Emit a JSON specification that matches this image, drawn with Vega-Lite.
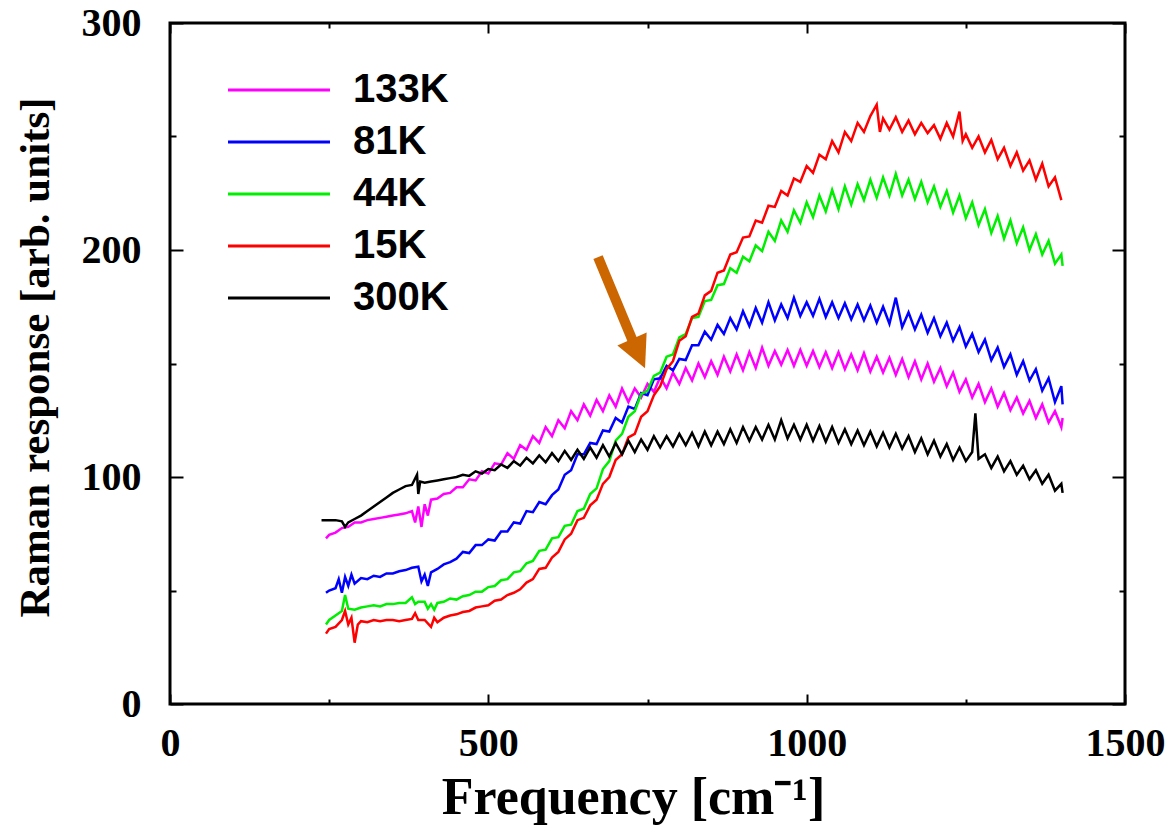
{
  "$schema": "https://vega.github.io/schema/vega-lite/v6.json",
  "width": 955,
  "height": 681,
  "autosize": "none",
  "padding": {"left": 170, "top": 23, "right": 43, "bottom": 121},
  "background": "white",
  "config": {
    "view": {"stroke": "black", "strokeWidth": 3},
    "axis": {"grid": false}
  },
  "datasets": {
    "spectra": [
      {"T":"133K","f":245,"r":73},{"T":"133K","f":250,"r":74.5},{"T":"133K","f":260,"r":75.5},{"T":"133K","f":270,"r":77.5},{"T":"133K","f":280,"r":78},{"T":"133K","f":290,"r":80},{"T":"133K","f":300,"r":80},{"T":"133K","f":310,"r":81},{"T":"133K","f":320,"r":81.5},{"T":"133K","f":330,"r":82},{"T":"133K","f":340,"r":82.5},{"T":"133K","f":350,"r":83},{"T":"133K","f":360,"r":83.5},{"T":"133K","f":370,"r":84},{"T":"133K","f":380,"r":85},{"T":"133K","f":385,"r":80},{"T":"133K","f":390,"r":87},{"T":"133K","f":395,"r":78},{"T":"133K","f":400,"r":88},{"T":"133K","f":405,"r":83},{"T":"133K","f":410,"r":90},{"T":"133K","f":420,"r":90.5},{"T":"133K","f":430,"r":92.5},{"T":"133K","f":440,"r":93},{"T":"133K","f":450,"r":95.5},{"T":"133K","f":460,"r":95.5},{"T":"133K","f":470,"r":99},{"T":"133K","f":480,"r":98.5},{"T":"133K","f":490,"r":102.5},{"T":"133K","f":500,"r":101.5},{"T":"133K","f":510,"r":106},{"T":"133K","f":520,"r":105.5},{"T":"133K","f":530,"r":110.5},{"T":"133K","f":540,"r":108},{"T":"133K","f":550,"r":114},{"T":"133K","f":560,"r":112},{"T":"133K","f":570,"r":118},{"T":"133K","f":580,"r":115},{"T":"133K","f":590,"r":122},{"T":"133K","f":600,"r":118},{"T":"133K","f":610,"r":125},{"T":"133K","f":620,"r":121.5},{"T":"133K","f":630,"r":129},{"T":"133K","f":640,"r":125},{"T":"133K","f":650,"r":132},{"T":"133K","f":660,"r":127},{"T":"133K","f":670,"r":134},{"T":"133K","f":680,"r":129},{"T":"133K","f":690,"r":136},{"T":"133K","f":700,"r":131},{"T":"133K","f":710,"r":139},{"T":"133K","f":720,"r":133},{"T":"133K","f":730,"r":139},{"T":"133K","f":740,"r":135},{"T":"133K","f":750,"r":141},{"T":"133K","f":760,"r":137.5},{"T":"133K","f":770,"r":144},{"T":"133K","f":780,"r":139},{"T":"133K","f":790,"r":146},{"T":"133K","f":800,"r":141},{"T":"133K","f":810,"r":148},{"T":"133K","f":820,"r":142.5},{"T":"133K","f":830,"r":150},{"T":"133K","f":840,"r":144},{"T":"133K","f":850,"r":151},{"T":"133K","f":860,"r":145},{"T":"133K","f":870,"r":153},{"T":"133K","f":880,"r":146.5},{"T":"133K","f":890,"r":154},{"T":"133K","f":900,"r":147},{"T":"133K","f":910,"r":155},{"T":"133K","f":920,"r":148},{"T":"133K","f":930,"r":157},{"T":"133K","f":940,"r":149},{"T":"133K","f":950,"r":155.5},{"T":"133K","f":960,"r":149.5},{"T":"133K","f":970,"r":156},{"T":"133K","f":980,"r":149},{"T":"133K","f":990,"r":156},{"T":"133K","f":1000,"r":149},{"T":"133K","f":1010,"r":155.5},{"T":"133K","f":1020,"r":148.5},{"T":"133K","f":1030,"r":155},{"T":"133K","f":1040,"r":148},{"T":"133K","f":1050,"r":155},{"T":"133K","f":1060,"r":147.5},{"T":"133K","f":1070,"r":154},{"T":"133K","f":1080,"r":147},{"T":"133K","f":1090,"r":154.5},{"T":"133K","f":1100,"r":146.5},{"T":"133K","f":1110,"r":153},{"T":"133K","f":1120,"r":146},{"T":"133K","f":1130,"r":152.5},{"T":"133K","f":1140,"r":145},{"T":"133K","f":1150,"r":152},{"T":"133K","f":1160,"r":144},{"T":"133K","f":1170,"r":151},{"T":"133K","f":1180,"r":143},{"T":"133K","f":1190,"r":150},{"T":"133K","f":1200,"r":142},{"T":"133K","f":1210,"r":148},{"T":"133K","f":1220,"r":140},{"T":"133K","f":1230,"r":146},{"T":"133K","f":1240,"r":137.5},{"T":"133K","f":1250,"r":143},{"T":"133K","f":1260,"r":135},{"T":"133K","f":1270,"r":141},{"T":"133K","f":1280,"r":133},{"T":"133K","f":1290,"r":139},{"T":"133K","f":1300,"r":131},{"T":"133K","f":1310,"r":137},{"T":"133K","f":1320,"r":129.5},{"T":"133K","f":1330,"r":135},{"T":"133K","f":1340,"r":128},{"T":"133K","f":1350,"r":133.5},{"T":"133K","f":1360,"r":126},{"T":"133K","f":1370,"r":132},{"T":"133K","f":1380,"r":124},{"T":"133K","f":1390,"r":129},{"T":"133K","f":1400,"r":122},{"T":"133K","f":1402,"r":126},

      {"T":"81K","f":245,"r":49},{"T":"81K","f":250,"r":50},{"T":"81K","f":260,"r":51},{"T":"81K","f":265,"r":55},{"T":"81K","f":270,"r":49},{"T":"81K","f":275,"r":56},{"T":"81K","f":280,"r":52},{"T":"81K","f":285,"r":57},{"T":"81K","f":290,"r":53},{"T":"81K","f":300,"r":55.5},{"T":"81K","f":310,"r":55},{"T":"81K","f":320,"r":56.5},{"T":"81K","f":330,"r":56},{"T":"81K","f":340,"r":57.5},{"T":"81K","f":350,"r":57.5},{"T":"81K","f":360,"r":58.5},{"T":"81K","f":370,"r":59},{"T":"81K","f":380,"r":60},{"T":"81K","f":390,"r":60.5},{"T":"81K","f":395,"r":54},{"T":"81K","f":400,"r":57},{"T":"81K","f":405,"r":52},{"T":"81K","f":410,"r":58},{"T":"81K","f":420,"r":59.5},{"T":"81K","f":430,"r":61.5},{"T":"81K","f":440,"r":62.5},{"T":"81K","f":450,"r":64},{"T":"81K","f":460,"r":67},{"T":"81K","f":470,"r":66.5},{"T":"81K","f":480,"r":70},{"T":"81K","f":490,"r":70},{"T":"81K","f":500,"r":72.5},{"T":"81K","f":510,"r":72},{"T":"81K","f":520,"r":76},{"T":"81K","f":530,"r":76},{"T":"81K","f":540,"r":80},{"T":"81K","f":550,"r":79.5},{"T":"81K","f":560,"r":85},{"T":"81K","f":570,"r":84.5},{"T":"81K","f":580,"r":89},{"T":"81K","f":590,"r":88},{"T":"81K","f":600,"r":92},{"T":"81K","f":610,"r":94.5},{"T":"81K","f":620,"r":101},{"T":"81K","f":630,"r":103},{"T":"81K","f":640,"r":110},{"T":"81K","f":650,"r":110},{"T":"81K","f":660,"r":115},{"T":"81K","f":670,"r":114.5},{"T":"81K","f":680,"r":120.5},{"T":"81K","f":690,"r":120},{"T":"81K","f":700,"r":126},{"T":"81K","f":710,"r":124},{"T":"81K","f":720,"r":131},{"T":"81K","f":730,"r":130},{"T":"81K","f":740,"r":137},{"T":"81K","f":750,"r":136},{"T":"81K","f":760,"r":143},{"T":"81K","f":770,"r":143.5},{"T":"81K","f":780,"r":149},{"T":"81K","f":790,"r":147},{"T":"81K","f":800,"r":152},{"T":"81K","f":810,"r":151.5},{"T":"81K","f":820,"r":158},{"T":"81K","f":830,"r":158},{"T":"81K","f":840,"r":164},{"T":"81K","f":850,"r":160.5},{"T":"81K","f":860,"r":167},{"T":"81K","f":870,"r":163},{"T":"81K","f":880,"r":170},{"T":"81K","f":890,"r":165},{"T":"81K","f":900,"r":173},{"T":"81K","f":910,"r":166.5},{"T":"81K","f":920,"r":174.5},{"T":"81K","f":930,"r":168},{"T":"81K","f":940,"r":177},{"T":"81K","f":950,"r":169},{"T":"81K","f":960,"r":176},{"T":"81K","f":970,"r":170},{"T":"81K","f":980,"r":179},{"T":"81K","f":990,"r":171},{"T":"81K","f":1000,"r":177},{"T":"81K","f":1010,"r":171},{"T":"81K","f":1020,"r":178.5},{"T":"81K","f":1030,"r":170.5},{"T":"81K","f":1040,"r":177},{"T":"81K","f":1050,"r":170},{"T":"81K","f":1060,"r":176.5},{"T":"81K","f":1070,"r":169.5},{"T":"81K","f":1080,"r":176},{"T":"81K","f":1090,"r":169},{"T":"81K","f":1100,"r":175.5},{"T":"81K","f":1110,"r":168},{"T":"81K","f":1120,"r":175},{"T":"81K","f":1130,"r":167.5},{"T":"81K","f":1140,"r":179},{"T":"81K","f":1150,"r":166},{"T":"81K","f":1160,"r":172.5},{"T":"81K","f":1170,"r":165},{"T":"81K","f":1180,"r":171.5},{"T":"81K","f":1190,"r":163.5},{"T":"81K","f":1200,"r":170},{"T":"81K","f":1210,"r":162},{"T":"81K","f":1220,"r":168},{"T":"81K","f":1230,"r":160},{"T":"81K","f":1240,"r":166},{"T":"81K","f":1250,"r":157.5},{"T":"81K","f":1260,"r":163},{"T":"81K","f":1270,"r":155},{"T":"81K","f":1280,"r":160.5},{"T":"81K","f":1290,"r":151.5},{"T":"81K","f":1300,"r":157},{"T":"81K","f":1310,"r":148.5},{"T":"81K","f":1320,"r":154},{"T":"81K","f":1330,"r":145},{"T":"81K","f":1340,"r":151},{"T":"81K","f":1350,"r":142.5},{"T":"81K","f":1360,"r":147.5},{"T":"81K","f":1370,"r":138},{"T":"81K","f":1380,"r":143.5},{"T":"81K","f":1390,"r":133},{"T":"81K","f":1400,"r":140},{"T":"81K","f":1402,"r":132},

      {"T":"44K","f":245,"r":35},{"T":"44K","f":250,"r":37},{"T":"44K","f":260,"r":39},{"T":"44K","f":270,"r":41},{"T":"44K","f":275,"r":48},{"T":"44K","f":280,"r":42},{"T":"44K","f":290,"r":41.5},{"T":"44K","f":300,"r":42.5},{"T":"44K","f":310,"r":43},{"T":"44K","f":320,"r":43.5},{"T":"44K","f":330,"r":43},{"T":"44K","f":340,"r":44},{"T":"44K","f":350,"r":44},{"T":"44K","f":360,"r":44.5},{"T":"44K","f":370,"r":44.5},{"T":"44K","f":380,"r":47},{"T":"44K","f":385,"r":44},{"T":"44K","f":390,"r":45},{"T":"44K","f":400,"r":45},{"T":"44K","f":405,"r":42},{"T":"44K","f":410,"r":44},{"T":"44K","f":415,"r":41.5},{"T":"44K","f":420,"r":44.5},{"T":"44K","f":430,"r":45},{"T":"44K","f":440,"r":46.5},{"T":"44K","f":450,"r":46},{"T":"44K","f":460,"r":47.5},{"T":"44K","f":470,"r":48},{"T":"44K","f":480,"r":49.5},{"T":"44K","f":490,"r":49.5},{"T":"44K","f":500,"r":51.5},{"T":"44K","f":510,"r":52},{"T":"44K","f":520,"r":54.5},{"T":"44K","f":530,"r":55},{"T":"44K","f":540,"r":58},{"T":"44K","f":550,"r":58.5},{"T":"44K","f":560,"r":62},{"T":"44K","f":570,"r":63},{"T":"44K","f":580,"r":67.5},{"T":"44K","f":590,"r":68},{"T":"44K","f":600,"r":73},{"T":"44K","f":610,"r":73.5},{"T":"44K","f":620,"r":78.5},{"T":"44K","f":630,"r":79},{"T":"44K","f":640,"r":85},{"T":"44K","f":650,"r":86},{"T":"44K","f":660,"r":92.5},{"T":"44K","f":670,"r":95},{"T":"44K","f":680,"r":103.5},{"T":"44K","f":690,"r":107},{"T":"44K","f":700,"r":116},{"T":"44K","f":710,"r":119},{"T":"44K","f":720,"r":126.5},{"T":"44K","f":730,"r":129},{"T":"44K","f":740,"r":136.5},{"T":"44K","f":750,"r":138},{"T":"44K","f":760,"r":144.5},{"T":"44K","f":770,"r":146},{"T":"44K","f":780,"r":153},{"T":"44K","f":790,"r":154},{"T":"44K","f":800,"r":161.5},{"T":"44K","f":810,"r":163},{"T":"44K","f":820,"r":170},{"T":"44K","f":830,"r":170.5},{"T":"44K","f":840,"r":177.5},{"T":"44K","f":850,"r":178},{"T":"44K","f":860,"r":184.5},{"T":"44K","f":870,"r":185},{"T":"44K","f":880,"r":192},{"T":"44K","f":890,"r":190},{"T":"44K","f":900,"r":197},{"T":"44K","f":910,"r":195},{"T":"44K","f":920,"r":202},{"T":"44K","f":930,"r":199.5},{"T":"44K","f":940,"r":208},{"T":"44K","f":950,"r":204},{"T":"44K","f":960,"r":213},{"T":"44K","f":970,"r":208},{"T":"44K","f":980,"r":217.5},{"T":"44K","f":990,"r":212},{"T":"44K","f":1000,"r":221},{"T":"44K","f":1010,"r":214.5},{"T":"44K","f":1020,"r":224},{"T":"44K","f":1030,"r":217},{"T":"44K","f":1040,"r":226.5},{"T":"44K","f":1050,"r":218},{"T":"44K","f":1060,"r":228},{"T":"44K","f":1070,"r":220},{"T":"44K","f":1080,"r":229},{"T":"44K","f":1090,"r":222},{"T":"44K","f":1100,"r":231},{"T":"44K","f":1110,"r":223},{"T":"44K","f":1120,"r":232},{"T":"44K","f":1130,"r":224},{"T":"44K","f":1140,"r":233.5},{"T":"44K","f":1150,"r":224},{"T":"44K","f":1160,"r":231},{"T":"44K","f":1170,"r":222.5},{"T":"44K","f":1180,"r":230},{"T":"44K","f":1190,"r":221},{"T":"44K","f":1200,"r":228},{"T":"44K","f":1210,"r":219},{"T":"44K","f":1220,"r":226},{"T":"44K","f":1230,"r":216.5},{"T":"44K","f":1240,"r":224},{"T":"44K","f":1250,"r":214},{"T":"44K","f":1260,"r":221},{"T":"44K","f":1270,"r":211},{"T":"44K","f":1280,"r":218},{"T":"44K","f":1290,"r":207.5},{"T":"44K","f":1300,"r":215},{"T":"44K","f":1310,"r":205},{"T":"44K","f":1320,"r":213},{"T":"44K","f":1330,"r":203},{"T":"44K","f":1340,"r":210},{"T":"44K","f":1350,"r":200},{"T":"44K","f":1360,"r":207},{"T":"44K","f":1370,"r":198},{"T":"44K","f":1380,"r":204},{"T":"44K","f":1390,"r":194},{"T":"44K","f":1400,"r":198},{"T":"44K","f":1402,"r":193},

      {"T":"15K","f":245,"r":31},{"T":"15K","f":250,"r":33},{"T":"15K","f":260,"r":34},{"T":"15K","f":270,"r":37},{"T":"15K","f":275,"r":41},{"T":"15K","f":280,"r":35},{"T":"15K","f":285,"r":38},{"T":"15K","f":290,"r":27},{"T":"15K","f":295,"r":35},{"T":"15K","f":300,"r":36.5},{"T":"15K","f":310,"r":36},{"T":"15K","f":320,"r":37},{"T":"15K","f":330,"r":36.5},{"T":"15K","f":340,"r":37},{"T":"15K","f":350,"r":37},{"T":"15K","f":360,"r":36.5},{"T":"15K","f":370,"r":37},{"T":"15K","f":380,"r":37.5},{"T":"15K","f":385,"r":40},{"T":"15K","f":390,"r":37},{"T":"15K","f":400,"r":37},{"T":"15K","f":410,"r":34},{"T":"15K","f":415,"r":38},{"T":"15K","f":420,"r":36},{"T":"15K","f":430,"r":38},{"T":"15K","f":440,"r":39},{"T":"15K","f":450,"r":39.5},{"T":"15K","f":460,"r":40.5},{"T":"15K","f":470,"r":41},{"T":"15K","f":480,"r":42.5},{"T":"15K","f":490,"r":43},{"T":"15K","f":500,"r":43.5},{"T":"15K","f":510,"r":45.5},{"T":"15K","f":520,"r":46},{"T":"15K","f":530,"r":48},{"T":"15K","f":540,"r":49},{"T":"15K","f":550,"r":50.5},{"T":"15K","f":560,"r":53.5},{"T":"15K","f":570,"r":55},{"T":"15K","f":580,"r":59.5},{"T":"15K","f":590,"r":60},{"T":"15K","f":600,"r":64.5},{"T":"15K","f":610,"r":67},{"T":"15K","f":620,"r":72.5},{"T":"15K","f":630,"r":75},{"T":"15K","f":640,"r":81},{"T":"15K","f":650,"r":82},{"T":"15K","f":660,"r":87.5},{"T":"15K","f":670,"r":90},{"T":"15K","f":680,"r":97},{"T":"15K","f":690,"r":100},{"T":"15K","f":700,"r":107.5},{"T":"15K","f":710,"r":110},{"T":"15K","f":720,"r":117.5},{"T":"15K","f":730,"r":119},{"T":"15K","f":740,"r":126.5},{"T":"15K","f":750,"r":129},{"T":"15K","f":760,"r":136},{"T":"15K","f":770,"r":140},{"T":"15K","f":780,"r":147.5},{"T":"15K","f":790,"r":151},{"T":"15K","f":800,"r":160},{"T":"15K","f":810,"r":162},{"T":"15K","f":820,"r":170.5},{"T":"15K","f":830,"r":172},{"T":"15K","f":840,"r":180},{"T":"15K","f":850,"r":182},{"T":"15K","f":860,"r":190},{"T":"15K","f":870,"r":191},{"T":"15K","f":880,"r":198},{"T":"15K","f":890,"r":199},{"T":"15K","f":900,"r":205.5},{"T":"15K","f":910,"r":206},{"T":"15K","f":920,"r":213},{"T":"15K","f":930,"r":212},{"T":"15K","f":940,"r":219.5},{"T":"15K","f":950,"r":219},{"T":"15K","f":960,"r":226},{"T":"15K","f":970,"r":224},{"T":"15K","f":980,"r":231.5},{"T":"15K","f":990,"r":230},{"T":"15K","f":1000,"r":237},{"T":"15K","f":1010,"r":234},{"T":"15K","f":1020,"r":242},{"T":"15K","f":1030,"r":240},{"T":"15K","f":1040,"r":248},{"T":"15K","f":1050,"r":243},{"T":"15K","f":1060,"r":252},{"T":"15K","f":1070,"r":248},{"T":"15K","f":1080,"r":256},{"T":"15K","f":1090,"r":252},{"T":"15K","f":1100,"r":259},{"T":"15K","f":1110,"r":264},{"T":"15K","f":1115,"r":252},{"T":"15K","f":1120,"r":258},{"T":"15K","f":1130,"r":253},{"T":"15K","f":1140,"r":258.5},{"T":"15K","f":1150,"r":252},{"T":"15K","f":1160,"r":257},{"T":"15K","f":1170,"r":251},{"T":"15K","f":1180,"r":256},{"T":"15K","f":1190,"r":251.5},{"T":"15K","f":1200,"r":255},{"T":"15K","f":1210,"r":249},{"T":"15K","f":1220,"r":256},{"T":"15K","f":1230,"r":250},{"T":"15K","f":1240,"r":261},{"T":"15K","f":1245,"r":248},{"T":"15K","f":1250,"r":251},{"T":"15K","f":1260,"r":245},{"T":"15K","f":1270,"r":250},{"T":"15K","f":1280,"r":243},{"T":"15K","f":1290,"r":248.5},{"T":"15K","f":1300,"r":240},{"T":"15K","f":1310,"r":245},{"T":"15K","f":1320,"r":237},{"T":"15K","f":1330,"r":243},{"T":"15K","f":1340,"r":235},{"T":"15K","f":1350,"r":239.5},{"T":"15K","f":1360,"r":231},{"T":"15K","f":1370,"r":238},{"T":"15K","f":1380,"r":228},{"T":"15K","f":1390,"r":232},{"T":"15K","f":1400,"r":222},

      {"T":"300K","f":238,"r":81},{"T":"300K","f":250,"r":81},{"T":"300K","f":260,"r":81},{"T":"300K","f":270,"r":80.5},{"T":"300K","f":275,"r":78},{"T":"300K","f":280,"r":80},{"T":"300K","f":290,"r":81.5},{"T":"300K","f":300,"r":83},{"T":"300K","f":310,"r":85},{"T":"300K","f":320,"r":87},{"T":"300K","f":330,"r":89},{"T":"300K","f":340,"r":91},{"T":"300K","f":350,"r":93},{"T":"300K","f":360,"r":94.5},{"T":"300K","f":370,"r":96},{"T":"300K","f":380,"r":96.5},{"T":"300K","f":388,"r":101},{"T":"300K","f":390,"r":92.5},{"T":"300K","f":393,"r":98},{"T":"300K","f":400,"r":97.5},{"T":"300K","f":410,"r":98},{"T":"300K","f":420,"r":98.5},{"T":"300K","f":430,"r":99},{"T":"300K","f":440,"r":99.5},{"T":"300K","f":450,"r":100},{"T":"300K","f":460,"r":101},{"T":"300K","f":470,"r":100.5},{"T":"300K","f":480,"r":102.5},{"T":"300K","f":490,"r":101.5},{"T":"300K","f":500,"r":103.5},{"T":"300K","f":510,"r":103},{"T":"300K","f":520,"r":105.5},{"T":"300K","f":530,"r":104},{"T":"300K","f":540,"r":107},{"T":"300K","f":550,"r":105},{"T":"300K","f":560,"r":108.5},{"T":"300K","f":570,"r":106},{"T":"300K","f":580,"r":109.5},{"T":"300K","f":590,"r":106.5},{"T":"300K","f":600,"r":110.5},{"T":"300K","f":610,"r":107},{"T":"300K","f":620,"r":111.5},{"T":"300K","f":630,"r":107.5},{"T":"300K","f":640,"r":112},{"T":"300K","f":650,"r":108},{"T":"300K","f":660,"r":113},{"T":"300K","f":670,"r":108.5},{"T":"300K","f":680,"r":114},{"T":"300K","f":690,"r":109},{"T":"300K","f":700,"r":115},{"T":"300K","f":710,"r":110},{"T":"300K","f":720,"r":116},{"T":"300K","f":730,"r":111},{"T":"300K","f":740,"r":116.5},{"T":"300K","f":750,"r":112},{"T":"300K","f":760,"r":118},{"T":"300K","f":770,"r":113},{"T":"300K","f":780,"r":118},{"T":"300K","f":790,"r":113.5},{"T":"300K","f":800,"r":119},{"T":"300K","f":810,"r":114},{"T":"300K","f":820,"r":119.5},{"T":"300K","f":830,"r":113.5},{"T":"300K","f":840,"r":120},{"T":"300K","f":850,"r":114},{"T":"300K","f":860,"r":120},{"T":"300K","f":870,"r":114.5},{"T":"300K","f":880,"r":121},{"T":"300K","f":890,"r":115},{"T":"300K","f":900,"r":122},{"T":"300K","f":910,"r":116},{"T":"300K","f":920,"r":122},{"T":"300K","f":930,"r":116.5},{"T":"300K","f":940,"r":123},{"T":"300K","f":950,"r":116.5},{"T":"300K","f":960,"r":125},{"T":"300K","f":970,"r":117},{"T":"300K","f":980,"r":123},{"T":"300K","f":990,"r":116.5},{"T":"300K","f":1000,"r":123},{"T":"300K","f":1010,"r":116},{"T":"300K","f":1020,"r":122.5},{"T":"300K","f":1030,"r":115.5},{"T":"300K","f":1040,"r":122},{"T":"300K","f":1050,"r":115},{"T":"300K","f":1060,"r":121},{"T":"300K","f":1070,"r":114.5},{"T":"300K","f":1080,"r":120.5},{"T":"300K","f":1090,"r":114},{"T":"300K","f":1100,"r":120},{"T":"300K","f":1110,"r":113.5},{"T":"300K","f":1120,"r":119.5},{"T":"300K","f":1130,"r":113},{"T":"300K","f":1140,"r":119},{"T":"300K","f":1150,"r":112.5},{"T":"300K","f":1160,"r":118},{"T":"300K","f":1170,"r":111},{"T":"300K","f":1180,"r":117},{"T":"300K","f":1190,"r":110},{"T":"300K","f":1200,"r":116},{"T":"300K","f":1210,"r":109},{"T":"300K","f":1220,"r":114.5},{"T":"300K","f":1230,"r":107.5},{"T":"300K","f":1240,"r":113},{"T":"300K","f":1250,"r":107},{"T":"300K","f":1260,"r":111},{"T":"300K","f":1265,"r":128},{"T":"300K","f":1270,"r":108},{"T":"300K","f":1280,"r":110},{"T":"300K","f":1290,"r":104},{"T":"300K","f":1300,"r":109},{"T":"300K","f":1310,"r":102.5},{"T":"300K","f":1320,"r":107},{"T":"300K","f":1330,"r":101},{"T":"300K","f":1340,"r":105},{"T":"300K","f":1350,"r":99},{"T":"300K","f":1360,"r":103},{"T":"300K","f":1370,"r":97},{"T":"300K","f":1380,"r":101},{"T":"300K","f":1390,"r":94},{"T":"300K","f":1400,"r":97},{"T":"300K","f":1402,"r":93}
    ],
    "arrow": [
      {"f": 672.3, "r": 196.9, "f2": 728.8, "r2": 158.6, "hf": 735.9, "hr": 154.4}
    ]
  },
  "resolve": {"axis": {"x": "independent", "y": "independent"}},
  "layer": [
    {
      "data": {"name": "spectra"},
      "mark": {"type": "line", "strokeWidth": 2.5, "clip": true},
      "encoding": {
        "x": {
          "field": "f", "type": "quantitative",
          "scale": {"domain": [0, 1500], "nice": false, "zero": false},
          "axis": {
            "orient": "bottom",
            "values": [0, 500, 1000, 1500],
            "format": "d",
            "tickSize": -10,
            "tickWidth": 2, "tickColor": "black", "domain": false,
            "labelFont": "Liberation Serif", "labelFontWeight": "bold", "labelFontSize": 40, "labelColor": "black",
            "labelPadding": 61, "labelBaseline": "alphabetic", "labelFlush": false, "labelOverlap": false,
            "title": "Frequency [cm⁻¹]",
            "titleFont": "Liberation Serif", "titleFontSize": 52, "titleFontWeight": "bold", "titleColor": "black",
            "titleX": 463, "titleY": 109, "titleBaseline": "alphabetic", "titleAlign": "center"
          }
        },
        "y": {
          "field": "r", "type": "quantitative",
          "scale": {"domain": [0, 300], "nice": false},
          "axis": {
            "orient": "left",
            "values": [0, 100, 200, 300],
            "format": "d",
            "tickSize": -13,
            "tickWidth": 2, "tickColor": "black", "domain": false,
            "labelFont": "Liberation Serif", "labelFontWeight": "bold", "labelFontSize": 40, "labelColor": "black",
            "labelPadding": 42, "labelFlush": false, "labelOverlap": false,
            "title": "Raman response [arb. units]",
            "titleFont": "Liberation Serif", "titleFontSize": 43, "titleFontWeight": "bold", "titleColor": "black",
            "titleAngle": -90, "titleX": -122, "titleY": 334, "titleBaseline": "alphabetic", "titleAlign": "center"
          }
        },
        "color": {
          "field": "T", "type": "nominal",
          "scale": {"domain": ["133K", "81K", "44K", "15K", "300K"], "range": ["#ff00ff", "#0000ff", "#00ee00", "#ff0000", "#000000"]},
          "legend": {
            "orient": "none", "legendX": 89, "legendY": 47, "title": null, "padding": 0,
            "symbolType": "M-5,0L5,0", "symbolSize": 416, "symbolStrokeWidth": 3,
            "labelFont": "Liberation Sans", "labelFontSize": 40, "labelFontWeight": "bold", "labelColor": "black",
            "labelOffset": 54, "rowPadding": 12, "labelLimit": 0
          }
        }
      }
    },
    {
      "data": {"name": "arrow"},
      "mark": {"type": "rule", "color": "#cc6600", "strokeWidth": 10},
      "encoding": {
        "x": {
          "field": "f", "type": "quantitative",
          "axis": {
            "orient": "bottom", "values": [250, 750, 1250], "labels": false, "title": null, "domain": false,
            "tickSize": -5, "tickWidth": 2, "tickColor": "black"
          }
        },
        "y": {
          "field": "r", "type": "quantitative",
          "axis": {
            "orient": "left", "values": [50, 150, 250], "labels": false, "title": null, "domain": false,
            "tickSize": -6, "tickWidth": 2, "tickColor": "black"
          }
        },
        "x2": {"field": "f2"},
        "y2": {"field": "r2"}
      }
    },
    {
      "data": {"name": "arrow"},
      "mark": {"type": "point", "shape": "M-1,-1L1,-1L0,1Z", "size": 1024, "angle": -24, "filled": true, "color": "#cc6600", "opacity": 1},
      "encoding": {
        "x": {
          "field": "hf", "type": "quantitative",
          "axis": {
            "orient": "top", "values": [0, 500, 1000, 1500], "labels": false, "title": null, "domain": false,
            "tickSize": -10, "tickWidth": 2, "tickColor": "black"
          }
        },
        "y": {
          "field": "hr", "type": "quantitative",
          "axis": {
            "orient": "right", "values": [0, 100, 200, 300], "labels": false, "title": null, "domain": false,
            "tickSize": -13, "tickWidth": 2, "tickColor": "black"
          }
        }
      }
    },
    {
      "data": {"name": "arrow"},
      "mark": {"type": "point", "shape": "M-1,-1L1,-1L0,1Z", "size": 1024, "angle": -24, "filled": true, "color": "#cc6600", "opacity": 0},
      "encoding": {
        "x": {
          "field": "hf", "type": "quantitative",
          "axis": {
            "orient": "top", "values": [250, 750, 1250], "labels": false, "title": null, "domain": false,
            "tickSize": -5, "tickWidth": 2, "tickColor": "black"
          }
        },
        "y": {
          "field": "hr", "type": "quantitative",
          "axis": {
            "orient": "right", "values": [50, 150, 250], "labels": false, "title": null, "domain": false,
            "tickSize": -6, "tickWidth": 2, "tickColor": "black"
          }
        }
      }
    }
  ]
}
